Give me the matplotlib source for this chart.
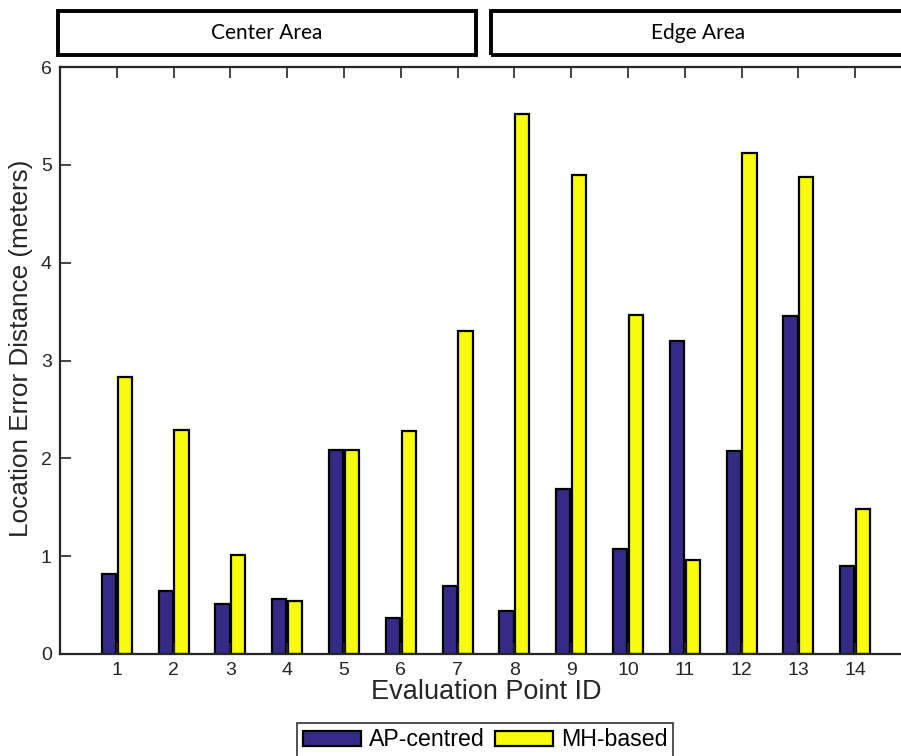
import matplotlib
matplotlib.use("Agg")
import matplotlib.pyplot as plt
from matplotlib.patches import Rectangle
import numpy as np

points = list(range(1, 15))
ap_centred = [0.82, 0.64, 0.51, 0.56, 2.09, 0.37, 0.69, 0.44, 1.69, 1.07, 3.20, 2.07, 3.45, 0.90]
mh_based = [2.83, 2.29, 1.01, 0.54, 2.09, 2.28, 3.30, 5.52, 4.90, 3.46, 0.96, 5.12, 4.88, 1.48]
series_names = ["AP-centred", "MH-based"]
region_names = ["Center Area", "Edge Area"]

plt.rcParams["font.family"] = ["Liberation Sans", "DejaVu Sans"]

W, H = 901, 756
fig = plt.figure(figsize=(W / 100, H / 100), dpi=100)

ax_left, ax_bottom, ax_top = 60, 654, 67
px_per_unit = 56.8
ax = fig.add_axes([ax_left / W, 1 - ax_bottom / H,
                   15 * px_per_unit / W, (ax_bottom - ax_top) / H])

x = np.array(points, dtype=float)
bw = 0.25
off = 0.14
navy = "#352a87"
yellow = "#f9fb0e"
b1 = ax.bar(x - off, ap_centred, width=bw, color=navy, edgecolor="black",
            linewidth=1.6, label=series_names[0])
b2 = ax.bar(x + off, mh_based, width=bw, color=yellow, edgecolor="black",
            linewidth=1.6, label=series_names[1])

ax.set_xlim(0, 15)
ax.set_ylim(0, 6)
ax.set_xticks(points)
ax.set_yticks(range(0, 7))
ax.tick_params(direction="in", length=8, width=1.2, top=True, right=True,
               labelsize=14, colors="#262626", pad=6)
for s in ax.spines.values():
    s.set_linewidth(1.6)
    s.set_color("#262626")

ax.set_xlabel("Evaluation Point ID", fontsize=19.5, color="#262626", labelpad=0)
ax.set_ylabel("Location Error Distance (meters)", fontsize=18.8, color="#262626")
ax.yaxis.set_label_coords(-0.032, 0.521)

leg = fig.legend(handles=[b1, b2], labels=series_names, loc="center",
                 bbox_to_anchor=(485 / W, 1 - 740 / H), ncol=2, fontsize=16.7,
                 frameon=True, fancybox=False, edgecolor="black",
                 handlelength=2.5, handleheight=0.65, handletextpad=0.35,
                 columnspacing=0.45, borderpad=0.25, borderaxespad=0)
leg.get_frame().set_linewidth(1.2)

# region header boxes above the plot
boxes = [(58, 476), (491, 910)]
for (x0, x1), name in zip(boxes, region_names):
    fig.patches.append(Rectangle((x0 / W, 1 - 55 / H), (x1 - x0) / W, 44 / H,
                                 transform=fig.transFigure, fill=False,
                                 edgecolor="black", linewidth=2.8))
    cx = (x0 + min(x1, 905)) / 2 if name == region_names[1] else (x0 + x1) / 2
    fig.text(cx / W, 1 - 33 / H, name, ha="center", va="center",
             fontsize=15, family=["Lato", "DejaVu Sans"], color="black")

fig.savefig("out.png", dpi=100)
